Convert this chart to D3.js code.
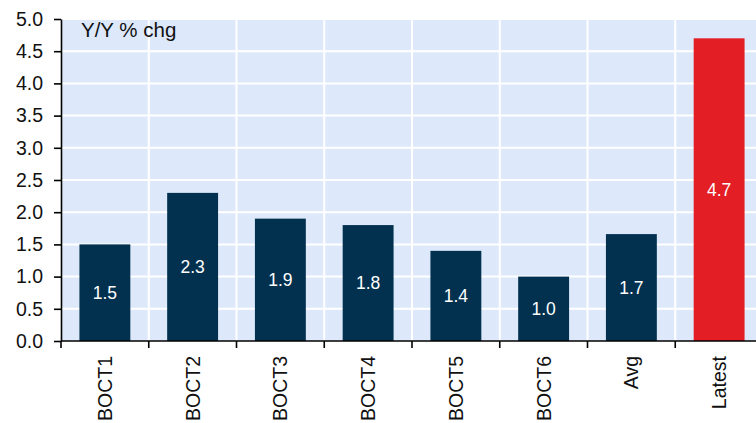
<!DOCTYPE html>
<html>
<head>
<meta charset="utf-8">
<script src="https://cdn.jsdelivr.net/npm/d3@7"></script>
<style>
  html, body { margin: 0; padding: 0; background: #ffffff; }
  svg { display: block; font-family: "Liberation Sans", Arial, sans-serif; }
</style>
</head>
<body>
<svg id="chart" width="756" height="423"></svg>
<script>
// Survey rounds and the latest reading, year-over-year % change
const categories = ["BOCT1", "BOCT2", "BOCT3", "BOCT4", "BOCT5", "BOCT6", "Avg", "Latest"];
const values = [1.5, 2.3, 1.9, 1.8, 1.4, 1.0, 1.66, 4.7];
const yTicks = [0, 0.5, 1, 1.5, 2, 2.5, 3, 3.5, 4, 4.5, 5];
const unitLabel = "Y/Y % chg";

const width = 756, height = 423;
const margin = { top: 19, right: -7, bottom: 82, left: 61 };

const svg = d3.select("#chart");
const innerW = width - margin.left - margin.right;
const innerH = height - margin.top - margin.bottom;

const x = d3.scaleBand()
  .domain(categories)
  .range([margin.left, margin.left + innerW])
  .paddingInner(0.42)
  .paddingOuter(0.21);

const y = d3.scaleLinear()
  .domain([0, 5])
  .range([margin.top + innerH, margin.top]);

// plot background
svg.append("rect")
  .attr("x", margin.left)
  .attr("y", margin.top)
  .attr("width", innerW)
  .attr("height", innerH)
  .attr("fill", "#dde9fb");

// horizontal gridlines
svg.append("g")
  .selectAll("line")
  .data(yTicks.slice(1))
  .join("line")
  .attr("x1", margin.left)
  .attr("x2", margin.left + innerW)
  .attr("y1", d => y(d))
  .attr("y2", d => y(d))
  .attr("stroke", "#ffffff")
  .attr("stroke-width", 2);

// vertical gridlines at category boundaries
const step = x.step();
function boundary(i) { return margin.left + step * i; }
svg.append("g")
  .selectAll("line")
  .data(d3.range(1, categories.length))
  .join("line")
  .attr("x1", d => boundary(d))
  .attr("x2", d => boundary(d))
  .attr("y1", margin.top)
  .attr("y2", margin.top + innerH)
  .attr("stroke", "#ffffff")
  .attr("stroke-width", 2);

// bars
svg.append("g")
  .selectAll("rect")
  .data(categories.map((c, i) => ({ c, v: values[i] })))
  .join("rect")
  .attr("x", d => x(d.c))
  .attr("y", d => y(d.v))
  .attr("width", x.bandwidth())
  .attr("height", d => y(0) - y(d.v))
  .attr("fill", d => d.c === "Latest" ? "#e31e24" : "#02314f");

// value labels, centred in each bar
const fmt = d3.format(".1f");
svg.append("g")
  .selectAll("text")
  .data(categories.map((c, i) => ({ c, v: values[i] })))
  .join("text")
  .attr("x", d => x(d.c) + x.bandwidth() / 2)
  .attr("y", d => (y(d.v) + y(0)) / 2)
  .attr("dy", "0.36em")
  .attr("text-anchor", "middle")
  .attr("fill", "#ffffff")
  .attr("font-size", 17.5)
  .text(d => fmt(d.v));

// y axis
const yAxis = d3.axisLeft(y)
  .tickValues(yTicks)
  .tickFormat(d3.format(".1f"))
  .tickSize(7)
  .tickSizeOuter(0)
  .tickPadding(11);
const gy = svg.append("g")
  .attr("transform", `translate(${margin.left},0)`)
  .call(yAxis);
gy.select(".domain").attr("stroke", "#000").attr("stroke-width", 1.6);
gy.selectAll(".tick line").attr("stroke", "#000").attr("stroke-width", 1.6);
gy.selectAll(".tick text")
  .attr("fill", "#111")
  .attr("font-size", 19.5)
  .attr("font-family", "Liberation Sans, Arial, sans-serif");

// x axis: ticks sit on the category boundaries
const gx = svg.append("g")
  .attr("transform", `translate(0,${margin.top + innerH})`);
gx.append("line")
  .attr("x1", margin.left)
  .attr("x2", margin.left + innerW)
  .attr("stroke", "#000")
  .attr("stroke-width", 1.6);
gx.selectAll(".bt")
  .data(d3.range(0, categories.length))
  .join("line")
  .attr("class", "bt")
  .attr("x1", d => boundary(d))
  .attr("x2", d => boundary(d))
  .attr("y1", 0)
  .attr("y2", 7)
  .attr("stroke", "#000")
  .attr("stroke-width", 1.6);
gx.selectAll("text")
  .data(categories)
  .join("text")
  .attr("transform", d => `translate(${x(d) + x.bandwidth() / 2},15) rotate(-90)`)
  .attr("text-anchor", "end")
  .attr("dy", "0.36em")
  .attr("fill", "#111")
  .attr("font-size", 19.5)
  .text(d => d);

// unit label
svg.append("text")
  .attr("x", 81)
  .attr("y", 37)
  .attr("fill", "#111")
  .attr("font-size", 20.5)
  .text(unitLabel);
</script>
</body>
</html>
